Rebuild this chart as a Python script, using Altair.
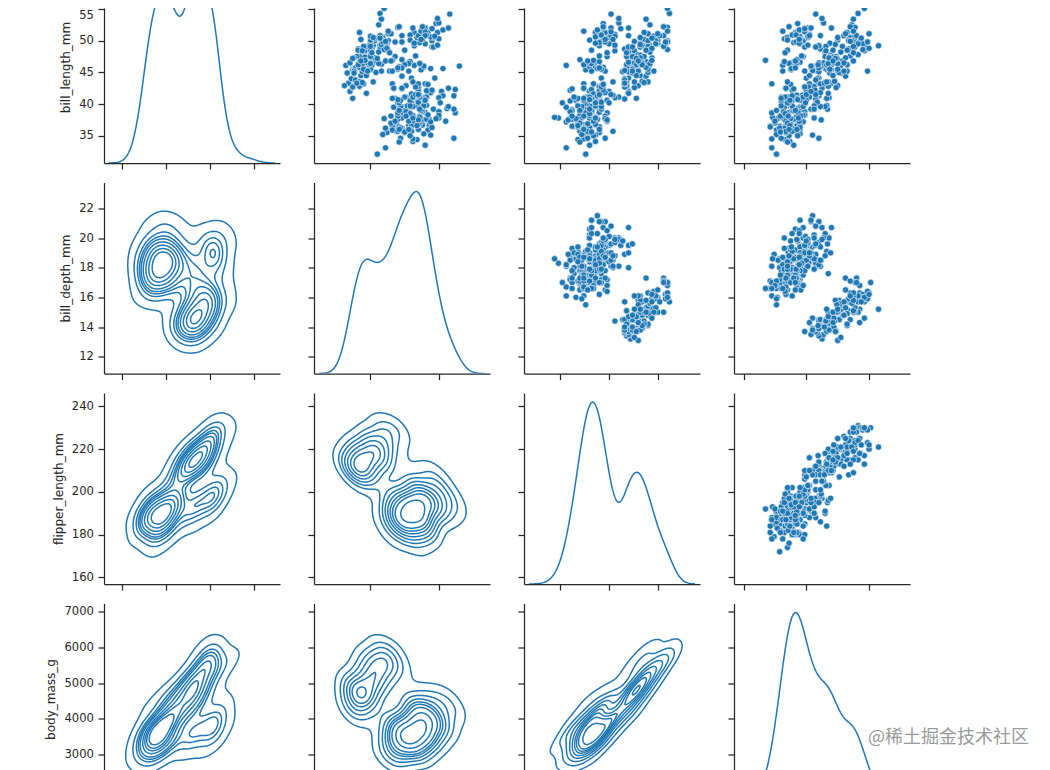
import numpy as np
import pandas as pd
import altair as alt
from collections import defaultdict

alt.data_transformers.disable_max_rows()

VARS = ["bill_length_mm", "bill_depth_mm", "flipper_length_mm", "body_mass_g"]

# (bill_length_mm, bill_depth_mm, flipper_length_mm, body_mass_g)
ADELIE = [
    (39.1,18.7,181,3750),(39.5,17.4,186,3800),(40.3,18.0,195,3250),(36.7,19.3,193,3450),(39.3,20.6,190,3650),
    (38.9,17.8,181,3625),(39.2,19.6,195,4675),(34.1,18.1,193,3475),(42.0,20.2,190,4250),(37.8,17.1,186,3300),
    (37.8,17.3,180,3700),(41.1,17.6,182,3200),(38.6,21.2,191,3800),(34.6,21.1,198,4400),(36.6,17.8,185,3700),
    (38.7,19.0,195,3450),(42.5,20.7,197,4500),(34.4,18.4,184,3325),(46.0,21.5,194,4200),
    (37.8,18.3,174,3400),(37.7,18.7,180,3600),(35.9,19.2,189,3800),(38.2,18.1,185,3950),(38.8,17.2,180,3800),
    (35.3,18.9,187,3800),(40.6,18.6,183,3550),(40.5,17.9,187,3200),(37.9,18.6,172,3150),(40.5,18.9,180,3950),
    (39.5,16.7,178,3250),(37.2,18.1,178,3900),(39.5,17.8,188,3300),(40.9,18.9,184,3900),(36.4,17.0,195,3325),
    (39.2,21.1,196,4150),(38.8,20.0,190,3950),(42.2,18.5,180,3550),(37.6,19.3,181,3300),(39.8,19.1,184,4650),
    (36.5,18.0,182,3150),(40.8,18.4,195,3900),(36.0,18.5,186,3100),(44.1,19.7,196,4400),(37.0,16.9,185,3000),
    (39.6,18.8,190,4600),(41.1,19.0,182,3425),(37.5,18.9,179,2975),(36.0,17.9,190,3450),(42.3,21.2,191,4150),
    (39.6,17.7,186,3500),(40.1,18.9,188,4300),(35.0,17.9,190,3450),(42.0,19.5,200,4050),(34.5,18.1,187,2900),
    (41.4,18.6,191,3700),(39.0,17.5,186,3550),(40.6,18.8,193,3800),(36.5,16.6,181,2850),(37.6,19.1,194,3750),
    (35.7,16.9,185,3150),(41.3,21.1,195,4400),(37.6,17.0,185,3600),(41.1,18.2,192,4050),(36.4,17.1,184,2850),
    (41.6,18.0,192,3950),(35.5,16.2,195,3350),(41.1,19.1,188,4100),
    (35.9,16.6,190,3050),(41.8,19.4,198,4450),(33.5,19.0,190,3600),(39.7,18.4,190,3900),(39.6,17.2,196,3550),
    (45.8,18.9,197,4150),(35.5,17.5,190,3700),(42.8,18.5,195,4250),(40.9,16.8,191,3700),(37.2,19.4,184,3900),
    (36.2,16.1,187,3550),(42.1,19.1,195,4000),(34.6,17.2,189,3200),(42.9,17.6,196,4700),(36.7,18.8,187,3800),
    (35.1,19.4,193,4200),
    (37.3,17.8,191,3350),(41.3,20.3,194,3550),(36.3,19.5,190,3800),(36.9,18.6,189,3500),(38.3,19.2,189,3950),
    (38.9,18.8,190,3600),(35.7,18.0,202,3550),(41.1,18.1,205,4300),(34.0,17.1,185,3400),(39.6,18.1,186,4450),
    (36.2,17.3,187,3300),(40.8,18.9,208,4300),(38.1,18.6,190,3700),(40.3,18.5,196,4350),(33.1,16.1,178,2900),
    (43.2,18.5,192,4100),
    (35.0,17.9,192,3725),(41.0,20.0,203,4725),(37.7,16.0,183,3075),(37.8,20.0,190,4250),(37.9,18.6,193,2925),
    (39.7,18.9,184,3550),(38.6,17.2,199,3750),(38.2,20.0,190,3900),(38.1,17.0,181,3175),(43.2,19.0,197,4775),
    (38.1,16.5,198,3825),(45.6,20.3,191,4600),(39.7,17.7,193,3200),(42.2,19.5,197,4275),(39.6,20.7,191,3900),
    (42.7,18.3,196,4075),
    (38.6,17.0,188,2900),(37.3,20.5,199,3775),(35.7,17.0,189,3350),(41.1,18.6,189,3325),(36.2,17.2,187,3150),
    (37.7,19.8,198,3500),(40.2,17.0,176,3450),(41.4,18.5,202,3875),(35.2,15.9,186,3050),(40.6,19.0,199,4000),
    (38.8,17.6,191,3275),(41.5,18.3,195,4300),(39.0,17.1,191,3050),(44.1,18.0,210,4000),(38.5,17.9,190,3325),
    (43.1,19.2,197,3500),
    (36.8,18.5,193,3500),(37.5,18.5,199,4475),(38.1,17.6,187,3425),(41.1,17.5,190,3900),(35.6,17.5,191,3175),
    (40.2,20.1,200,3975),(37.0,16.5,185,3400),(39.7,17.9,193,4250),(40.2,17.1,193,3400),(40.6,17.2,187,3475),
    (32.1,15.5,188,3050),(40.7,17.0,190,3725),(37.3,16.8,192,3000),(39.0,18.7,185,3650),(39.2,18.6,190,4250),
    (36.6,18.4,184,3475),(36.0,17.8,195,3450),(37.8,18.1,193,3750),(36.0,17.1,187,3700),(41.5,18.5,201,4000),
]

GENTOO = [
    (46.1,13.2,211,4500),(50.0,16.3,230,5700),(48.7,14.1,210,4450),(50.0,15.2,218,5700),(47.6,14.5,215,5400),
    (46.5,13.5,210,4550),(45.4,14.6,211,4800),(46.7,15.3,219,5200),(43.3,13.4,209,4400),(46.8,15.4,215,5150),
    (40.9,13.7,214,4650),(49.0,16.1,216,5550),(45.5,13.7,214,4650),(48.4,14.6,213,5850),(45.8,14.6,210,4200),
    (49.3,15.7,217,5850),(42.0,13.5,210,4150),(49.2,15.2,221,6300),(46.2,14.5,209,4800),(48.7,15.1,222,5350),
    (50.2,14.3,218,5700),(45.1,14.5,215,5000),(46.5,14.5,213,4400),(46.3,15.8,215,5050),(42.9,13.1,215,5000),
    (46.1,15.1,215,5100),(44.5,14.3,216,4100),(47.8,15.0,215,5650),(48.2,14.3,210,4600),(50.0,15.3,220,5550),
    (47.3,15.3,222,5250),(42.8,14.2,209,4700),(45.1,14.5,207,5050),(59.6,17.0,230,6050),(49.1,14.8,220,5150),
    (48.4,16.3,220,5400),(42.6,13.7,213,4950),(44.4,17.3,219,5250),(44.0,13.6,208,4350),(48.7,15.7,208,5350),
    (42.7,13.7,208,3950),(49.6,16.0,225,5700),(45.3,13.7,210,4300),(49.6,15.0,216,4750),(50.5,15.9,222,5550),
    (43.6,13.9,217,4900),(45.5,13.9,210,4200),(50.5,15.9,225,5400),(44.9,13.3,213,5100),(45.2,15.8,215,5300),
    (46.6,14.2,210,4850),(48.5,14.1,220,5300),(45.1,14.4,210,4400),(50.1,15.0,225,5000),(46.5,14.4,217,4900),
    (45.0,15.4,220,5050),(43.8,13.9,208,4300),(45.5,15.0,220,5000),(43.2,14.5,208,4450),(50.4,15.3,224,5550),
    (45.3,13.8,208,4200),(46.2,14.9,221,5300),(45.7,13.9,214,4400),(54.3,15.7,231,5650),(45.8,14.2,219,4700),
    (49.8,16.8,230,5700),(46.2,14.4,214,4650),(49.5,16.2,229,5800),(43.5,14.2,220,4700),(50.7,15.0,223,5550),
    (47.7,15.0,216,4750),(46.4,15.6,221,5000),(48.2,15.6,221,5100),(46.5,14.8,217,5200),(46.4,15.0,216,4700),
    (48.6,16.0,230,5800),(47.5,14.2,209,4600),(51.1,16.3,220,6000),(45.2,13.8,215,4750),(45.2,16.4,223,5950),
    (49.1,14.5,212,4625),(52.5,15.6,221,5450),(47.4,14.6,212,4725),(50.0,15.9,224,5350),(44.9,13.8,212,4750),
    (50.8,17.3,228,5600),(43.4,14.4,218,4600),(51.3,14.2,218,5300),(47.5,14.0,212,4875),(52.1,17.0,230,5550),
    (47.5,15.0,218,4950),(52.2,17.1,228,5400),(45.5,14.5,212,4750),(49.5,16.1,224,5650),(44.5,14.7,214,4850),
    (50.8,15.7,226,5200),(49.4,15.8,216,4925),(46.9,14.6,222,4875),(48.4,14.4,203,4625),(51.1,16.5,225,5250),
    (48.5,15.0,219,4850),(55.9,17.0,228,5600),(47.2,15.5,215,4975),(49.1,15.0,228,5500),(47.3,13.8,216,4725),
    (46.8,16.1,215,5500),(41.7,14.7,210,4700),(53.4,15.8,219,5500),(43.3,14.0,208,4575),(48.1,15.1,209,5500),
    (50.5,15.2,216,5000),(49.8,15.9,229,5950),(43.5,15.2,213,4650),(51.5,16.3,230,5500),(46.2,14.1,217,4375),
    (55.1,16.0,230,5850),(48.8,16.2,222,6000),(47.2,13.7,214,4925),(46.8,14.3,215,4850),(50.4,15.7,222,5750),
    (45.2,14.8,212,5200),(49.9,16.1,213,5400),
]

CHINSTRAP = [
    (46.5,17.9,192,3500),(50.0,19.5,196,3900),(51.3,19.2,193,3650),(45.4,18.7,188,3525),(52.7,19.8,197,3725),
    (45.2,17.8,198,3950),(46.1,18.2,178,3250),(51.3,18.2,197,3750),(46.0,18.9,195,4150),(51.3,19.9,198,3700),
    (46.6,17.8,193,3800),(51.7,20.3,194,3775),(47.0,17.3,185,3700),(52.0,18.1,201,4050),(45.9,17.1,190,3575),
    (50.5,19.6,201,4050),(50.3,20.0,197,3300),(58.0,17.8,181,3700),(46.4,18.6,190,3450),(49.2,18.2,195,4400),
    (42.4,17.3,181,3600),(48.5,17.5,191,3400),(43.2,16.6,187,2900),(50.6,19.4,193,3800),(46.7,17.9,195,3300),
    (52.0,19.0,197,4150),(50.5,18.4,200,3400),(49.5,19.0,200,3800),(46.4,17.8,191,3700),(52.8,20.0,205,4550),
    (40.9,16.6,187,3200),(54.2,20.8,201,4300),(42.5,16.7,187,3350),(51.0,18.8,203,4100),(49.7,18.6,195,3600),
    (47.5,16.8,199,3900),(47.6,18.3,195,3850),(52.0,20.7,210,4800),(46.9,16.6,192,2700),(53.5,19.9,205,4500),
    (49.0,19.5,210,3950),(46.2,17.5,187,3650),(50.9,19.1,196,3550),(45.5,17.0,196,3500),(50.9,17.9,196,3675),
    (50.8,18.5,201,4450),(50.1,17.9,190,3400),(49.0,19.6,212,4300),(51.5,18.7,187,3250),(49.8,17.3,198,3675),
    (48.1,16.4,199,3325),(51.4,19.0,201,3950),(45.7,17.3,193,3600),(50.7,19.7,203,4050),(42.5,17.3,187,3350),
    (52.2,18.8,197,3450),(45.2,16.6,191,3250),(49.3,19.9,203,4050),(50.2,18.8,202,3800),(45.6,19.4,194,3525),
    (51.9,19.5,206,3950),(46.8,16.5,189,3650),(45.7,17.0,195,3650),(55.8,19.8,207,4000),(43.5,18.1,202,3400),
    (49.6,18.2,193,3775),(50.8,19.0,210,4100),(50.2,18.7,198,3775),
]

X_TICKS = [[30, 40, 50, 60], [15, 20], [175, 200, 225], [2000, 4000, 6000]]
Y_TICKS = [[35, 40, 45, 50, 55], [12, 14, 16, 18, 20, 22], [160, 180, 200, 220, 240],
           [3000, 4000, 5000, 6000, 7000]]

# ---- layout / styling ----
BLUE = "#1f77b4"
INK = "#262626"
W = 176
HEIGHTS = [155, 191, 191, 167]
HSP = 34
VSP = 12.5
PADL = 36
X_DOM = [[25.95, 65.8], [10.87, 23.74], [156.3, 246.7], [1696, 7304]]
Y_DOM = [[30.7, 55.16], [10.87, 23.74], [156.9, 246.3], [2556, 7236]]
DIAG_FRAC = [(0.0, 0.808), (0.0, 1.0), (0.0, 1.0), (0.129, 1.0)]
TITLE_Y = {0: 59, 3: 95.5}

df = pd.DataFrame(ADELIE + GENTOO + CHINSTRAP, columns=VARS)


def kde1d(v, cut=3, gridsize=200):
    f = len(v) ** (-1 / 5)
    bw = f * v.std(ddof=1)
    grid = np.linspace(v.min() - cut * bw, v.max() + cut * bw, gridsize)
    d = np.exp(-0.5 * ((grid[:, None] - v[None, :]) / bw) ** 2).sum(1) / (len(v) * bw * np.sqrt(2 * np.pi))
    return grid, d


def kde2d(xv, yv, cut=3, gridsize=200):
    f = len(xv) ** (-1 / 6)
    cov = np.cov(np.vstack([xv, yv])) * f ** 2
    inv = np.linalg.inv(cov)
    bx, by = np.sqrt(np.diag(cov))
    xs = np.linspace(xv.min() - cut * bx, xv.max() + cut * bx, gridsize)
    ys = np.linspace(yv.min() - cut * by, yv.max() + cut * by, gridsize)
    D = np.zeros((gridsize, gridsize))
    for xk, yk in zip(xv, yv):
        dx = (xs - xk)[None, :]
        dy = (ys - yk)[:, None]
        D += np.exp(-0.5 * (inv[0, 0] * dx * dx + 2 * inv[0, 1] * dx * dy + inv[1, 1] * dy * dy))
    return xs, ys, D


def iso_levels(D, thresh=0.05, nlev=10):
    props = np.linspace(thresh, 1, nlev)
    vals = np.sort(D.ravel())[::-1]
    cum = np.cumsum(vals) / vals.sum()
    idx = np.searchsorted(cum, 1 - props)
    return np.take(vals, idx, mode="clip")[:-1]


def contour_paths(xs, ys, D, level):
    b = D >= level
    c = (b[:-1, :-1] * 1 + b[:-1, 1:] * 2 + b[1:, 1:] * 4 + b[1:, :-1] * 8)
    js, iis = np.nonzero((c > 0) & (c < 15))
    segs = []
    for j, i in zip(js, iis):
        k = c[j, i]
        B = (0, j, i); R = (1, j, i + 1); T = (0, j + 1, i); L = (1, j, i)
        if k == 5 or k == 10:
            center = (D[j, i] + D[j, i + 1] + D[j + 1, i + 1] + D[j + 1, i]) / 4
            a = center >= level
            if (k == 5) == a:
                segs += [(B, R), (T, L)]
            else:
                segs += [(L, B), (R, T)]
        else:
            bl = k & 1; br = (k >> 1) & 1; tr = (k >> 2) & 1; tl = (k >> 3) & 1
            es = []
            if bl != br: es.append(B)
            if br != tr: es.append(R)
            if tr != tl: es.append(T)
            if tl != bl: es.append(L)
            segs.append((es[0], es[1]))

    def pt(e):
        o, j, i = e
        if o == 0:
            v0, v1 = D[j, i], D[j, i + 1]
            t = (level - v0) / (v1 - v0)
            return xs[i] + t * (xs[i + 1] - xs[i]), ys[j]
        v0, v1 = D[j, i], D[j + 1, i]
        t = (level - v0) / (v1 - v0)
        return xs[i], ys[j] + t * (ys[j + 1] - ys[j])

    adj = defaultdict(list)
    for k, (e1, e2) in enumerate(segs):
        adj[e1].append(k)
        adj[e2].append(k)
    used = [False] * len(segs)

    def walk(e, k):
        path = [e]
        cur = e
        while k is not None and not used[k]:
            used[k] = True
            e1, e2 = segs[k]
            nxt = e2 if e1 == cur else e1
            path.append(nxt)
            cur = nxt
            k = next((kk for kk in adj[nxt] if not used[kk]), None)
        return path

    paths = []
    for e, ks in list(adj.items()):
        if len(ks) == 1 and not used[ks[0]]:
            paths.append(walk(e, ks[0]))
    for k in range(len(segs)):
        if not used[k]:
            paths.append(walk(segs[k][0], k))
    return [[pt(e) for e in p] for p in paths]


# ---- contour data (lower triangle) ----
cont_rows = []
pid = 0
for r in range(4):
    for c in range(r):
        xv = df[VARS[c]].values.astype(float)
        yv = df[VARS[r]].values.astype(float)
        xs, ys, D = kde2d(xv, yv)
        for li, lev in enumerate(iso_levels(D)):
            for path in contour_paths(xs, ys, D, lev):
                for o, (px, py) in enumerate(path):
                    cont_rows.append((f"{r}{c}", pid, o, round(float(px), 3), round(float(py), 3)))
                pid += 1
cont = pd.DataFrame(cont_rows, columns=["panel", "path", "ord", "x", "y"])


def xaxis(c, r):
    if r == 3:
        return None
    return alt.Axis(values=X_TICKS[c], labels=False, title=None)


def yaxis(r, c):
    if c == 0:
        kw = dict(values=Y_TICKS[r], title=VARS[r], format="d")
        if r in TITLE_Y:
            kw["titleY"] = TITLE_Y[r]
        if r == 0:
            kw["labelBaseline"] = {"condition": {"test": "datum.value == 55", "value": "top"}, "value": "middle"}
        return alt.Axis(**kw)
    return alt.Axis(values=Y_TICKS[r], labels=False, title=None)


def xs_(c):
    return alt.Scale(domain=X_DOM[c], nice=False, zero=False)


def ys_(r):
    return alt.Scale(domain=Y_DOM[r], nice=False, zero=False)


def panel(r, c):
    h = HEIGHTS[r]
    if r < c:
        ch = alt.Chart(df).mark_circle(size=40, color=BLUE, opacity=1, stroke="white",
                                       strokeWidth=0.6, clip=True).encode(
            x=alt.X(VARS[c], type="quantitative", scale=xs_(c), axis=xaxis(c, r)),
            y=alt.Y(VARS[r], type="quantitative", scale=ys_(r), axis=yaxis(r, c)),
        )
    elif r > c:
        sub = cont[cont.panel == f"{r}{c}"]
        ch = alt.Chart(sub).mark_line(color=BLUE, strokeWidth=1.5, clip=True).encode(
            x=alt.X("x:Q", scale=xs_(c), axis=xaxis(c, r)),
            y=alt.Y("y:Q", scale=ys_(r), axis=yaxis(r, c)),
            detail="path:N",
            order="ord:Q",
        )
    else:
        v = df[VARS[r]].values.astype(float)
        grid, dens = kde1d(v)
        m = dens.max() * 1.05
        lo, hi = DIAG_FRAC[r]
        kd = pd.DataFrame({"x": grid, "d": dens})
        carrier = alt.Chart(df).mark_point(opacity=0, clip=True).encode(
            x=alt.X(VARS[c], type="quantitative", scale=xs_(c), axis=xaxis(c, r)),
            y=alt.Y(VARS[r], type="quantitative", scale=ys_(r), axis=yaxis(r, c)),
        )
        line = alt.Chart(kd).mark_line(color=BLUE, strokeWidth=1.5, clip=True).encode(
            x=alt.X("x:Q", scale=xs_(c), axis=xaxis(c, r)),
            y=alt.Y("d:Q", scale=alt.Scale(domain=[lo * m, hi * m], nice=False, zero=False), axis=None),
        )
        layers = [carrier, line]
        if r == 3:
            wm = alt.Chart(pd.DataFrame({"t": ["@稀土掘金技术社区"]})).mark_text(
                align="left", baseline="middle", fontSize=18, font="Noto Sans CJK SC", color="#9a9a9a"
            ).encode(text="t:N", x=alt.value(134), y=alt.value(134.5))
            layers.append(wm)
        ch = alt.layer(*layers).resolve_scale(y="independent")
    return ch.properties(width=W, height=h)


rows = [alt.hconcat(*[panel(r, c) for c in range(4)], spacing=HSP, bounds="flush") for r in range(4)]

chart = alt.vconcat(*rows, spacing=VSP).properties(
    padding={"left": PADL, "top": 0, "right": 0, "bottom": 0}, background="white"
).configure_view(stroke=None).configure_axis(
    labelFont="DejaVu Sans", titleFont="DejaVu Sans", labelFontSize=11.6, titleFontSize=12,
    labelColor=INK, titleColor=INK, titleFontWeight="normal", labelPadding=4.5, titlePadding=6,
    domainColor=INK, tickColor=INK, domainWidth=1.25, tickWidth=1.25, tickSize=6, grid=False,
)

chart.save("out.html", embed_options={"renderer": "svg", "actions": False})
